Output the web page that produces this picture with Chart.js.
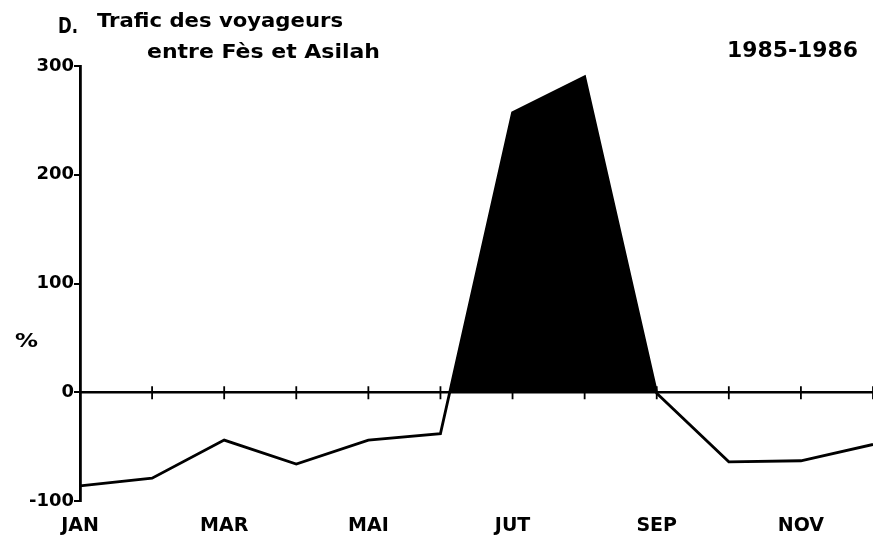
<!DOCTYPE html>
<html><head><meta charset="utf-8">
<script src="https://cdn.jsdelivr.net/npm/chart.js@4/dist/chart.umd.min.js"></script>
<style>html,body{margin:0;padding:0;background:#fff}#wrap{width:873px;height:535px}</style>
</head><body><div id="wrap"><canvas id="c" width="873" height="535"></canvas></div>
<script>
const months = ['JAN','FEV','MAR','AVR','MAI','JUN','JUT','AOU','SEP','OCT','NOV','DEC'];
const shownMonths = ['JAN','MAR','MAI','JUT','SEP','NOV'];
const traffic = [-86, -79, -44, -66, -44, -38, 257, 290, -1, -64, -63, -48];
const yTicks = [-100, 0, 100, 200, 300];
const titlePrefix = 'D.';
const titleLine1 = 'Trafic des voyageurs';
const titleLine2 = 'entre Fès et Asilah';
const periodLabel = '1985-1986';
const unitLabel = '%';

function fitText(ctx, text, x, y, w, font) {
  ctx.save();
  ctx.font = font;
  const m = ctx.measureText(text).width;
  ctx.translate(x, y);
  ctx.scale(w / m, 1);
  ctx.textBaseline = 'middle';
  ctx.textAlign = 'left';
  ctx.fillText(text, 0, 0);
  ctx.restore();
}

const decor = {
  id: 'decor',
  beforeDatasetsDraw(chart) {
    const ctx = chart.ctx, xs = chart.scales.x, ys = chart.scales.y;
    const y0 = ys.getPixelForValue(0);
    ctx.save();
    ctx.strokeStyle = '#000';
    ctx.lineWidth = 2.5;
    ctx.beginPath();
    ctx.moveTo(chart.chartArea.left, y0);
    ctx.lineTo(chart.chartArea.right, y0);
    ctx.stroke();
    ctx.lineWidth = 1.8;
    months.forEach((m, i) => {
      if (i === 0) return;
      const x = xs.getPixelForValue(i);
      ctx.beginPath();
      ctx.moveTo(x, y0 - 6);
      ctx.lineTo(x, y0 + 7);
      ctx.stroke();
    });
    ctx.restore();
  },
  afterDraw(chart) {
    const ctx = chart.ctx;
    ctx.save();
    ctx.fillStyle = '#000';
    fitText(ctx, titlePrefix, 58, 27, 20, 'bold 22px "DejaVu Sans"');
    fitText(ctx, titleLine1, 97, 22, 246, 'bold 20px "DejaVu Sans"');
    fitText(ctx, titleLine2, 147, 53, 233, 'bold 20px "DejaVu Sans"');
    fitText(ctx, periodLabel, 727, 52, 131, 'bold 21px "DejaVu Sans"');
    fitText(ctx, unitLabel, 15, 342, 23, 'bold 19px "DejaVu Sans"');
    ctx.restore();
  }
};

new Chart(document.getElementById('c'), {
  type: 'line',
  data: {
    labels: months,
    datasets: [{
      data: traffic,
      borderColor: '#000',
      borderWidth: 2.8,
      pointRadius: 0,
      tension: 0,
      fill: { target: 'origin', above: '#000', below: 'rgba(0,0,0,0)' }
    }]
  },
  options: {
    responsive: false,
    animation: false,
    layout: { padding: { top: 66, right: 0, left: 0, bottom: 0 } },
    plugins: { legend: { display: false }, tooltip: { enabled: false } },
    scales: {
      x: {
        type: 'category',
        offset: false,
        grid: { display: false },
        border: { display: false },
        ticks: {
          autoSkip: false, maxRotation: 0, padding: 6, color: '#000',
          font: { family: 'DejaVu Sans', weight: 'bold', size: 19 },
          callback: (v, i) => shownMonths.includes(months[i]) ? months[i] : ''
        },
        afterFit: s => { s.height = 34; s.paddingLeft = 0; s.paddingRight = 0; }
      },
      y: {
        min: -100, max: 300,
        afterBuildTicks: s => { s.ticks = yTicks.map(v => ({ value: v })); },
        grid: { drawOnChartArea: false, tickLength: 6, color: '#000', lineWidth: 2 },
        border: { display: true, color: '#000', width: 2.8 },
        ticks: {
          padding: 0, color: '#000',
          font: { family: 'DejaVu Sans', weight: 'bold', size: 18 }
        },
        afterFit: s => { s.width = 80; s.paddingTop = 0; s.paddingBottom = 0; }
      }
    }
  },
  plugins: [decor]
});
</script></body></html>
